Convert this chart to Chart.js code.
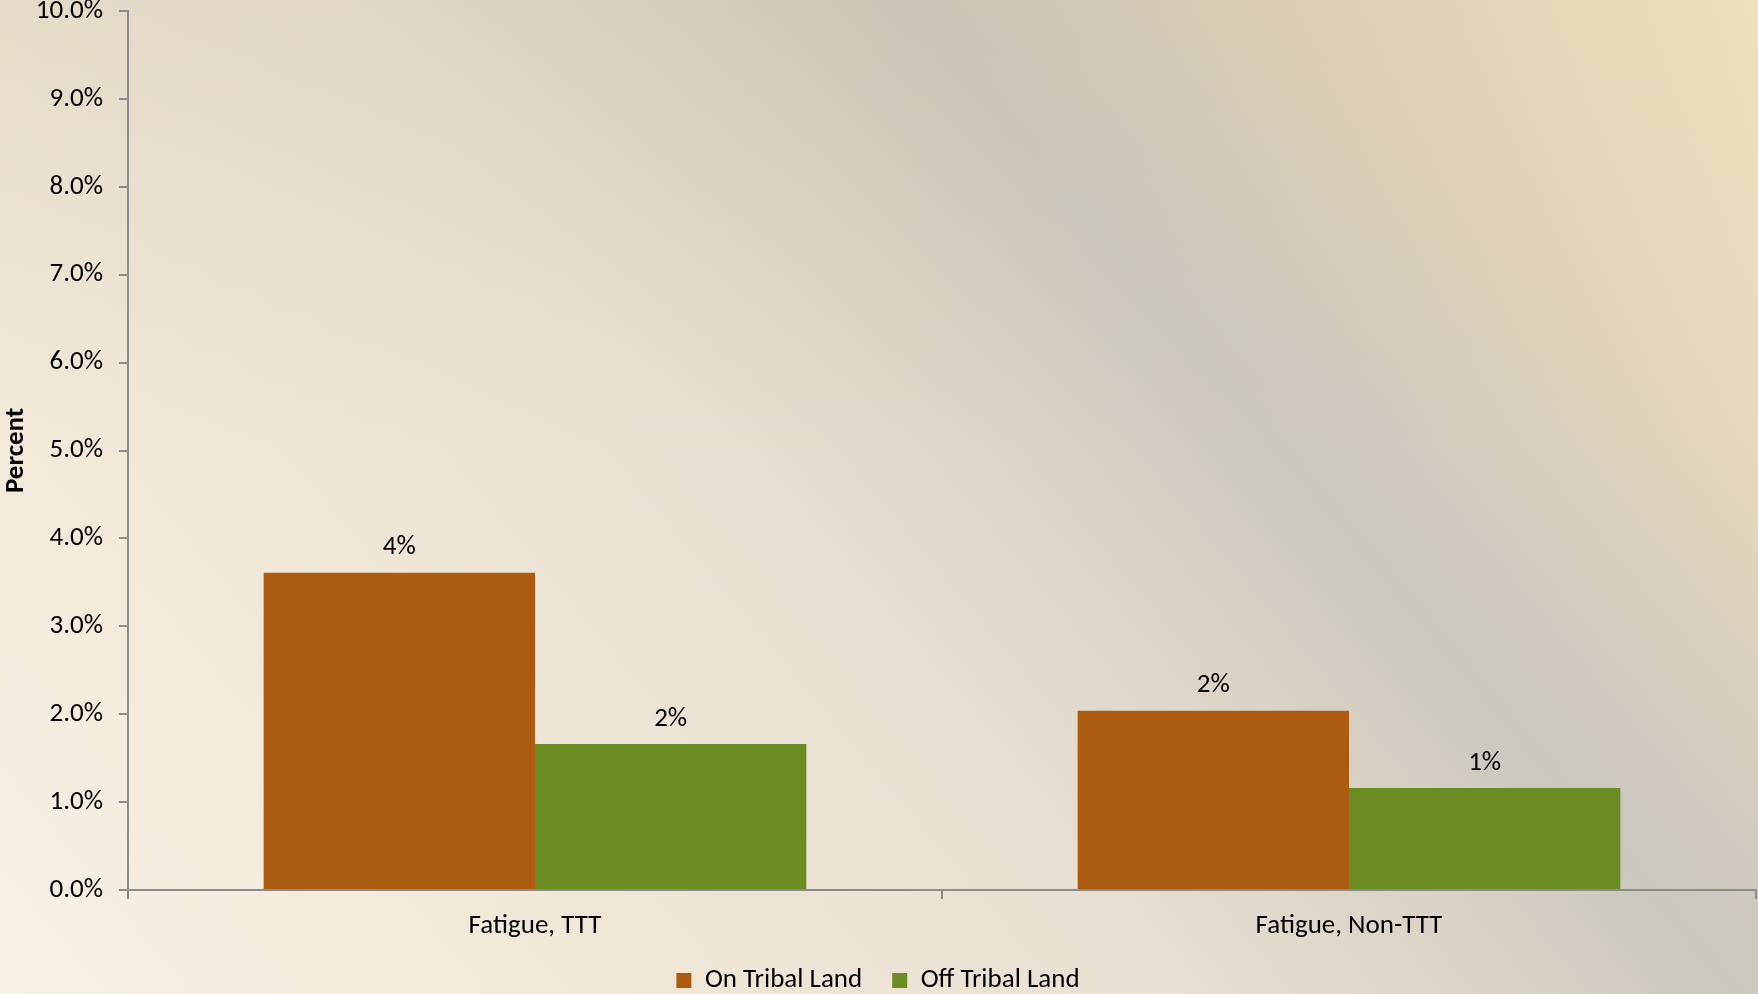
<!DOCTYPE html>
<html>
<head>
<meta charset="utf-8">
<script src="https://cdn.jsdelivr.net/npm/chart.js@4.4.1/dist/chart.umd.min.js"></script>
<style>
  html, body { margin: 0; padding: 0; }
  body {
    width: 1758px; height: 994px; overflow: hidden;
    background:
      linear-gradient(180deg, rgba(200,180,140,0.18) 0%, rgba(200,180,140,0) 45%),
      linear-gradient(50deg, #f7f1e6 0%, #f2e9d8 20%, #e8e0d2 45%, #dad3c6 58%, #cbc7bf 67%, #d0cabf 72%, #e0d4bc 82%, #f8e8c6 100%);
  }
  #wrap { width: 1758px; height: 994px; }
</style>
</head>
<body>
<div id="wrap"><canvas id="fatigueChart" width="1758" height="994"></canvas></div>
<script>
// data
const categories = ["Fatigue, TTT", "Fatigue, Non-TTT"];
const onTribal = [3.61, 2.04];
const offTribal = [1.66, 1.16];
const yTicks = [0, 1, 2, 3, 4, 5, 6, 7, 8, 9, 10];

const fontFamily = "Carlito, Lato, 'DejaVu Sans', sans-serif";
const fontSize = 27;

// value labels above bars
const barLabels = {
    id: 'barLabels',
    afterDatasetsDraw(chart) {
        const ctx = chart.ctx;
        ctx.save();
        ctx.font = fontSize + 'px ' + fontFamily;
        ctx.fillStyle = '#000';
        ctx.textAlign = 'center';
        ctx.textBaseline = 'middle';
        chart.data.datasets.forEach((ds, i) => {
            chart.getDatasetMeta(i).data.forEach((bar, j) => {
                ctx.fillText(Math.round(ds.data[j]) + '%', bar.x, bar.y - 25);
            });
        });
        ctx.restore();
    }
};

document.addEventListener('DOMContentLoaded', function() {
    const ctx = document.getElementById('fatigueChart');
    new Chart(ctx, {
        type: 'bar',
        data: {
            labels: categories,
            datasets: [{
                label: 'On Tribal Land',
                data: onTribal,
                backgroundColor: '#ab5c11',
                categoryPercentage: 2 / 3,
                barPercentage: 1
            }, {
                label: 'Off Tribal Land',
                data: offTribal,
                backgroundColor: '#6b8c23',
                categoryPercentage: 2 / 3,
                barPercentage: 1
            }]
        },
        options: {
            responsive: false,
            animation: false,
            layout: { padding: { top: 0, right: 2, left: 0, bottom: -10 } },
            plugins: {
                tooltip: { enabled: false },
                legend: {
                    position: 'bottom',
                    labels: {
                        boxWidth: 15,
                        boxHeight: 15,
                        padding: 30,
                        color: '#000',
                        font: { family: fontFamily, size: fontSize }
                    }
                }
            },
            scales: {
                x: {
                    grid: { drawOnChartArea: false, tickLength: 9, color: '#8c8c8c', lineWidth: 2 },
                    border: { color: '#8c8c8c', width: 2 },
                    ticks: { color: '#000', padding: 11, font: { family: fontFamily, size: fontSize } },
                    afterFit(scale) { scale.height = 47; }
                },
                y: {
                    min: 0,
                    max: 10,
                    afterBuildTicks(scale) { scale.ticks = yTicks.map(v => ({ value: v })); },
                    grid: { drawOnChartArea: false, tickLength: 9, color: '#8c8c8c', lineWidth: 2 },
                    border: { color: '#8c8c8c', width: 2 },
                    ticks: {
                        color: '#000',
                        padding: 16,
                        font: { family: fontFamily, size: fontSize },
                        callback: v => v.toFixed(1) + '%'
                    },
                    title: {
                        display: true,
                        text: 'Percent',
                        color: '#000',
                        padding: 0,
                        font: { family: fontFamily, size: fontSize, weight: 'bold' }
                    },
                    afterFit(scale) {
                        scale.width = 128;
                        scale.paddingTop = 11;
                    }
                }
            }
        },
        plugins: [barLabels]
    });
});
</script>
</body>
</html>
